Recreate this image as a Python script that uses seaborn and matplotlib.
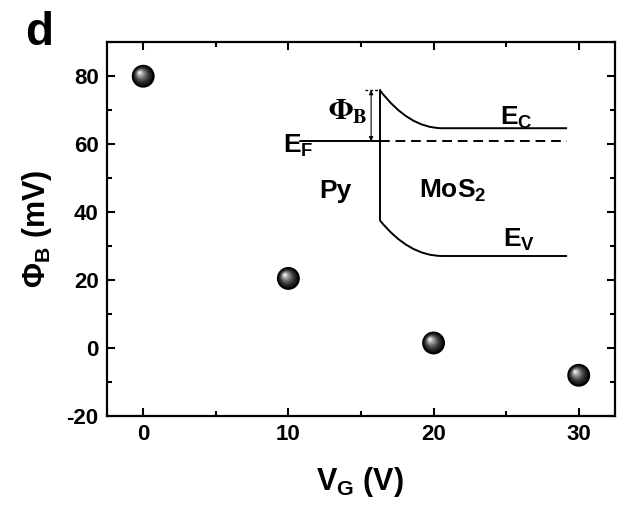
import matplotlib
matplotlib.use('Agg')
import matplotlib.pyplot as plt
import matplotlib.transforms as mtransforms
from matplotlib.path import Path
from matplotlib.patches import PathPatch
from matplotlib.ticker import MultipleLocator
import seaborn as sns
import pandas as pd

# measured points
vg = [0, 10, 20, 30]
phi_b = [80.0, 20.5, 1.5, -8.0]

# band diagram sketch (drawn in data units)
ef_level = 60.9
ef_start = 10.8
junction_x = 16.3
barrier_top = 75.9
barrier_bottom = 37.6
ec_level = 64.7
ev_level = 27.1
bend_ctrl_x = 18.3
bend_end_x = 20.6
band_end_x = 29.2
arrow_x = 15.7
cap_start = 15.3

sns.set_style('ticks')
plt.rcParams['font.family'] = ['Liberation Sans', 'DejaVu Sans']
plt.rcParams['font.weight'] = 'bold'
plt.rcParams['axes.labelweight'] = 'bold'
plt.rcParams['axes.unicode_minus'] = False
for key in ['text.color', 'axes.labelcolor', 'xtick.color', 'ytick.color', 'axes.edgecolor']:
    plt.rcParams[key] = 'black'
plt.rcParams['mathtext.fontset'] = 'custom'
plt.rcParams['mathtext.rm'] = 'Liberation Sans:bold'
plt.rcParams['mathtext.it'] = 'Liberation Sans:bold'
plt.rcParams['mathtext.bf'] = 'Liberation Sans:bold'

df = pd.DataFrame({'VG': vg, 'PhiB': phi_b})

fig = plt.figure(figsize=(6.44, 5.28), dpi=100)
ax = fig.add_axes([0.166, 0.212, 0.789, 0.708])

# sphere-like markers: black ball + shaded highlight layers
sns.scatterplot(data=df, x='VG', y='PhiB', s=272, color='black', edgecolor='none', ax=ax, zorder=3)
layers = 9
for i in range(layers):
    frac = 1 - (i + 1) / (layers + 1)
    size = 272 * frac ** 2 * 0.85
    grey = 0.1 + 0.85 * (i / (layers - 1)) ** 1.4
    shift = (1 - frac) * 4.0 / 100
    tr = ax.transData + mtransforms.ScaledTranslation(-shift, shift, fig.dpi_scale_trans)
    ax.scatter(vg, phi_b, s=size, color=str(grey), edgecolor='none', transform=tr, zorder=4 + i)

lw = 1.4
# Fermi level (solid on metal side, dashed into MoS2)
ax.plot([ef_start, junction_x], [ef_level, ef_level], color='black', lw=lw)
ax.plot([junction_x, band_end_x], [ef_level, ef_level], color='black', lw=lw, ls=(0, (5, 3)))
# interface
ax.plot([junction_x, junction_x], [barrier_top, barrier_bottom], color='black', lw=lw)
# bent conduction and valence bands
for top, flat in [(barrier_top, ec_level), (barrier_bottom, ev_level)]:
    p = Path([(junction_x, top), (bend_ctrl_x, flat), (bend_end_x, flat), (band_end_x, flat)],
             [Path.MOVETO, Path.CURVE3, Path.CURVE3, Path.LINETO])
    ax.add_patch(PathPatch(p, facecolor='none', edgecolor='black', lw=lw))

# barrier height arrow
ax.annotate('', xy=(arrow_x, barrier_top), xytext=(arrow_x, ef_level),
            arrowprops=dict(arrowstyle='<|-|>', lw=0.8, color='black',
                            shrinkA=0, shrinkB=0, mutation_scale=6))
ax.plot([cap_start, junction_x], [barrier_top, barrier_top], color='black', lw=1, ls=(0, (2, 1.5)))

ax.text(14.1, 69.4, r'$\Phi_\mathrm{B}$', math_fontfamily='stix', fontsize=21,
        ha='center', va='center', fontweight='normal')
ax.text(9.6, 57.6, r'$\mathrm{E_F}$', fontsize=19, ha='left', va='baseline')
ax.text(24.6, 65.6, r'$\mathrm{E_C}$', fontsize=19, ha='left', va='baseline')
ax.text(24.8, 29.7, r'$\mathrm{E_V}$', fontsize=19, ha='left', va='baseline')
ax.text(12.1, 44.1, 'Py', fontsize=19, ha='left', va='baseline')
ax.text(19.0, 44.1, r'$\mathrm{MoS_2}$', fontsize=19, ha='left', va='baseline')

ax.set_xlim(-2.5, 32.5)
ax.set_ylim(-20, 90)
ax.xaxis.set_major_locator(MultipleLocator(10))
ax.xaxis.set_minor_locator(MultipleLocator(5))
ax.yaxis.set_major_locator(MultipleLocator(20))
ax.yaxis.set_minor_locator(MultipleLocator(10))
ax.tick_params(which='both', direction='in', top=True, right=True, width=1.5, labelsize=16, pad=6)
ax.tick_params(which='major', length=6)
ax.tick_params(which='minor', length=3.5)
for sp in ax.spines.values():
    sp.set_linewidth(1.6)
    sp.set_visible(True)

ax.set_xlabel(r'$\mathrm{V_G}$ (V)', fontsize=22)
ax.set_ylabel(r'$\Phi_\mathrm{B}$ (mV)', fontsize=22)
ax.xaxis.set_label_coords(0.498, -0.13)
ax.yaxis.set_label_coords(-0.105, 0.5)

fig.text(0.039, 0.915, 'd', fontsize=33, ha='left', va='baseline')

fig.savefig('out.png', dpi=100)
